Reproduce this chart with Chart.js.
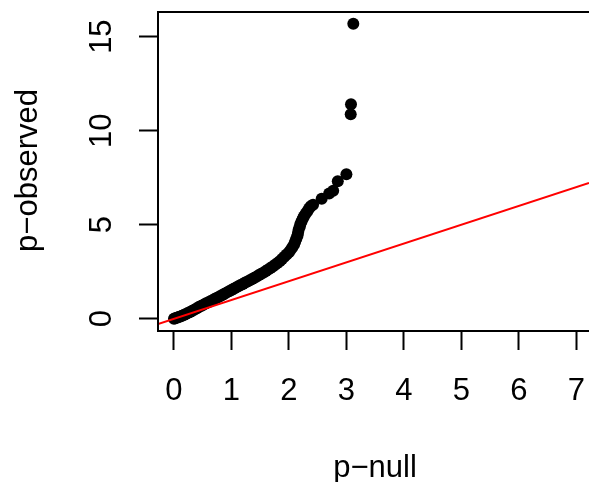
<!DOCTYPE html>
<html>
<head>
<meta charset="utf-8">
<script src="https://cdn.jsdelivr.net/npm/chart.js@4.4.0/dist/chart.umd.min.js"></script>
<style>
body { margin: 0; background: #fff; }
canvas { display: block; }
</style>
</head>
<body>
<canvas id="qq" width="589" height="482"></canvas>
<script>
var pNull = [0.00, 0.02, 0.05, 0.08, 0.11, 0.14, 0.17, 0.20, 0.24, 0.28,
	0.32, 0.36, 0.40, 0.44, 0.48, 0.52, 0.56, 0.60, 0.64, 0.68,
	0.72, 0.76, 0.80, 0.84, 0.88, 0.92, 0.96, 1.00, 1.04, 1.08,
	1.12, 1.16, 1.20, 1.24, 1.28, 1.32, 1.36, 1.40, 1.44, 1.48,
	1.52, 1.56, 1.60, 1.64, 1.68, 1.72, 1.76, 1.80, 1.84, 1.88,
	1.92, 1.96, 2.00, 2.03, 2.06, 2.09, 2.11, 2.13, 2.15, 2.16,
	2.17, 2.19, 2.20, 2.22, 2.24, 2.26, 2.29, 2.32, 2.35, 2.38,
	2.42, 2.57, 2.70, 2.77, 2.85, 3.00, 3.075, 3.08, 3.12];
var pObserved = [0.00, 0.02, 0.05, 0.09, 0.12, 0.16, 0.20, 0.24, 0.30, 0.36,
	0.42, 0.49, 0.56, 0.63, 0.69, 0.76, 0.82, 0.88, 0.94, 1.00,
	1.07, 1.13, 1.20, 1.26, 1.33, 1.40, 1.46, 1.53, 1.59, 1.66,
	1.72, 1.79, 1.85, 1.92, 1.98, 2.04, 2.11, 2.18, 2.25, 2.32,
	2.39, 2.46, 2.54, 2.62, 2.70, 2.78, 2.87, 2.96, 3.06, 3.17,
	3.29, 3.41, 3.54, 3.66, 3.80, 3.95, 4.10, 4.26, 4.42, 4.58,
	4.74, 4.90, 5.04, 5.18, 5.31, 5.44, 5.58, 5.72, 5.86, 5.98,
	6.06, 6.38, 6.66, 6.80, 7.31, 7.68, 10.87, 11.40, 15.68];

// linea di riferimento y = x
var lineX = [-0.278, 7.221];
var lineY = [-0.278, 7.221];

var xTicks = [0, 1, 2, 3, 4, 5, 6, 7];
var yTicks = [0, 5, 10, 15];
var xTitle = "p\u2212null";
var yTitle = "p\u2212observed";

var FONT = '31px "Liberation Sans", Arial, sans-serif';

function toPoints(xs, ys) {
	var pts = [];
	for (var i = 0; i < xs.length; i++) {
		pts.push({x: xs[i], y: ys[i]});
	}
	return pts;
}

// box, etichette e titoli come in un plot base di R
var rStyle = {
	id: 'rStyle',
	afterDraw: function(chart) {
		var ctx = chart.ctx;
		var a = chart.chartArea;
		var sx = chart.scales.x;
		var sy = chart.scales.y;

		ctx.save();
		ctx.strokeStyle = '#000';
		ctx.lineWidth = 2;
		ctx.beginPath();
		ctx.moveTo(chart.width + 5, a.top);
		ctx.lineTo(a.left, a.top);
		ctx.lineTo(a.left, a.bottom);
		ctx.lineTo(chart.width + 5, a.bottom);
		ctx.stroke();

		ctx.fillStyle = '#000';
		ctx.font = FONT;
		ctx.textBaseline = 'alphabetic';
		ctx.textAlign = 'center';

		xTicks.forEach(function(t) {
			ctx.fillText(String(t), sx.getPixelForValue(t), 400);
		});
		ctx.fillText(xTitle, 375, 477);

		yTicks.forEach(function(t) {
			ctx.save();
			ctx.translate(111, sy.getPixelForValue(t));
			ctx.rotate(-Math.PI / 2);
			ctx.fillText(String(t), 0, 0);
			ctx.restore();
		});

		ctx.save();
		ctx.translate(37, (a.top + a.bottom) / 2 - 1);
		ctx.rotate(-Math.PI / 2);
		ctx.fillText(yTitle, 0, 0);
		ctx.restore();

		ctx.restore();
	}
};

var ctx = document.getElementById('qq').getContext('2d');

var qqChart = new Chart(ctx, {
	type: 'scatter',
	data: {
		datasets: [
			{
				label: 'y = x',
				data: toPoints(lineX, lineY),
				showLine: true,
				borderColor: '#ff0000',
				borderWidth: 2,
				pointRadius: 0,
				pointHoverRadius: 0
			},
			{
				label: 'QQ',
				data: toPoints(pNull, pObserved),
				backgroundColor: '#000',
				borderColor: '#000',
				pointRadius: 6,
				pointBorderWidth: 0,
				showLine: false
			}
		]
	},
	options: {
		responsive: false,
		animation: false,
		devicePixelRatio: 1,
		layout: {
			autoPadding: false,
			padding: {top: 12, right: 0, bottom: 0, left: 0}
		},
		plugins: {
			legend: {display: false},
			tooltip: {enabled: false},
			title: {display: false}
		},
		scales: {
			x: {
				type: 'linear',
				min: -0.278,
				max: 7.221,
				ticks: {stepSize: 1, includeBounds: false, display: false},
				grid: {
					drawOnChartArea: false,
					drawTicks: true,
					tickLength: 19,
					tickWidth: 2,
					color: '#000'
				},
				border: {display: false},
				afterFit: function(scale) {
					scale.height = 151;
				}
			},
			y: {
				type: 'linear',
				min: -0.654,
				max: 16.31,
				ticks: {stepSize: 5, includeBounds: false, display: false},
				grid: {
					drawOnChartArea: false,
					drawTicks: true,
					tickLength: 19,
					tickWidth: 2,
					color: '#000'
				},
				border: {display: false},
				afterFit: function(scale) {
					scale.width = 158;
				}
			}
		}
	},
	plugins: [rStyle]
});
</script>
</body>
</html>
